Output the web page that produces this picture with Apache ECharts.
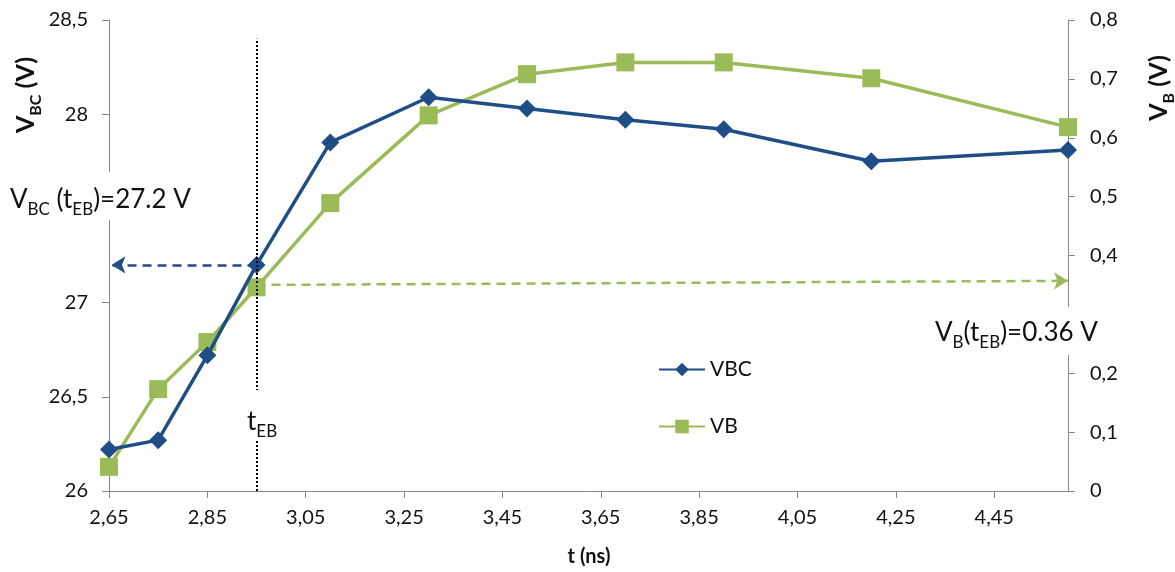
<!DOCTYPE html>
<html>
<head>
<meta charset="utf-8">
<script src="https://cdn.jsdelivr.net/npm/echarts@6/dist/echarts.min.js"></script>
<style>html,body{margin:0;padding:0;background:#fff}#c{width:1175px;height:572px}</style>
</head>
<body>
<div id="c"></div>
<script>
// ---- data ----
const tValues = [2.65, 2.75, 2.85, 2.95, 3.1, 3.3, 3.5, 3.7, 3.9, 4.2, 4.6];
const vbcValues = [26.22, 26.27, 26.72, 27.2, 27.85, 28.09, 28.03, 27.97, 27.92, 27.75, 27.81];
const vbValues = [0.041, 0.173, 0.253, 0.346, 0.489, 0.638, 0.708, 0.728, 0.728, 0.701, 0.618];
const tEB = 2.95;
const vbcAtEB = 27.2;
const vbArrowStart = 0.35;
const vbArrowEnd = 0.357;

const FONT = 'Lato, "Open Sans", sans-serif';
const BLUE = '#1F4E86';
const GREEN = '#9BBB59';
const AXIS = '#888888';

const chart = echarts.init(document.getElementById('c'), null, {renderer: 'canvas'});
const fmt = v => String(+v.toFixed(2)).replace('.', ',');

function richStyle(size, subSize, bold) {
  const w = bold ? 'bold' : 'normal';
  return {
    m: {fontFamily: FONT, fontSize: size, fontWeight: w, fill: '#111', color: '#111', verticalAlign: 'bottom'},
    s: {fontFamily: FONT, fontSize: subSize, fontWeight: w, fill: '#111', color: '#111', verticalAlign: 'bottom', padding: [0, 0, -5, 0]}
  };
}

chart.setOption({
  animation: false,
  backgroundColor: '#fff',
  grid: {left: 109, right: 107, top: 20, bottom: 81},
  legend: {
    orient: 'vertical', left: 653, top: 354, itemGap: 36,
    itemWidth: 46, itemHeight: 17,
    textStyle: {fontFamily: FONT, fontSize: 21, color: '#111'},
    data: ['VBC', 'VB']
  },
  xAxis: {
    type: 'value', min: 2.65, max: 4.6, interval: 0.2,
    splitLine: {show: false},
    axisLine: {lineStyle: {color: AXIS, width: 1}},
    axisTick: {length: 7, lineStyle: {color: AXIS}},
    axisLabel: {
      fontFamily: FONT, fontSize: 20, color: '#111', margin: 17, showMaxLabel: false,
      formatter: v => v.toFixed(2).replace('.', ',')
    }
  },
  yAxis: [{
    type: 'value', min: 26, max: 28.5, interval: 0.5,
    splitLine: {show: false},
    axisLine: {show: true, lineStyle: {color: AXIS}},
    axisTick: {show: true, length: 7, lineStyle: {color: AXIS}},
    axisLabel: {fontFamily: FONT, fontSize: 20, color: '#111', margin: 21, formatter: fmt}
  }, {
    type: 'value', min: 0, max: 0.8, interval: 0.1,
    splitLine: {show: false},
    axisLine: {show: true, lineStyle: {color: AXIS}},
    axisTick: {show: true, length: 7, lineStyle: {color: AXIS}},
    axisLabel: {fontFamily: FONT, fontSize: 20, color: '#111', margin: 22, formatter: fmt}
  }],
  series: [{
    name: 'VBC', type: 'line', yAxisIndex: 0,
    data: tValues.map((t, i) => [t, vbcValues[i]]),
    symbol: 'diamond', symbolSize: 18,
    lineStyle: {color: BLUE, width: 3.5},
    itemStyle: {color: BLUE},
    z: 3,
    markLine: {
      silent: true, animation: false,
      label: {show: false},
      data: [
        [{coord: [tEB, 26], symbol: 'none', lineStyle: {color: '#000', type: [2, 2], width: 2}},
         {coord: [tEB, 28.4], symbol: 'none'}],
        [{coord: [tEB, vbcAtEB], symbol: 'none', lineStyle: {color: BLUE, type: [9, 6], width: 2.5}},
         {coord: [2.655, vbcAtEB], symbol: 'arrow', symbolSize: [13, 14]}]
      ]
    }
  }, {
    name: 'VB', type: 'line', yAxisIndex: 1,
    data: tValues.map((t, i) => [t, vbValues[i]]),
    symbol: 'rect', symbolSize: 18,
    lineStyle: {color: GREEN, width: 3.5},
    itemStyle: {color: GREEN},
    z: 2,
    markLine: {
      silent: true, animation: false,
      label: {show: false},
      data: [
        [{coord: [tEB, vbArrowStart], symbol: 'none', lineStyle: {color: GREEN, type: [9, 6], width: 2.5}},
         {coord: [4.6, vbArrowEnd], symbol: 'arrow', symbolSize: [13, 14]}]
      ]
    }
  }],
  graphic: [
    {type: 'rect', z: 99, shape: {x: 4, y: 172, width: 204, height: 48}, style: {fill: '#fff'}},
    {type: 'rect', z: 99, shape: {x: 928, y: 307, width: 190, height: 48}, style: {fill: '#fff'}},
    {type: 'rect', z: 99, shape: {x: 244, y: 390, width: 40, height: 50}, style: {fill: '#fff'}},
    {type: 'text', z: 100, x: 10, y: 200,
     style: {text: '{m|V}{s|BC}{m| (t}{s|EB}{m|)=27.2 V}', verticalAlign: 'middle', rich: richStyle(26, 17, false)}},
    {type: 'text', z: 100, x: 935, y: 333,
     style: {text: '{m|V}{s|B}{m|(t}{s|EB}{m|)=0.36 V}', verticalAlign: 'middle', rich: richStyle(26, 17, false)}},
    {type: 'text', z: 100, x: 247, y: 422,
     style: {text: '{m|t}{s|EB}', verticalAlign: 'middle', rich: richStyle(26, 17, false)}},
    {type: 'text', z: 100, x: 26, y: 95, rotation: Math.PI / 2,
     style: {text: '{m|V}{s|BC}{m| (V)}', align: 'center', verticalAlign: 'middle', rich: richStyle(25, 16, true)}},
    {type: 'text', z: 100, x: 1159, y: 88, rotation: Math.PI / 2,
     style: {text: '{m|V}{s|B}{m| (V)}', align: 'center', verticalAlign: 'middle', rich: richStyle(25, 16, true)}},
    {type: 'text', z: 100, x: 589, y: 557,
     style: {text: 't (ns)', align: 'center', verticalAlign: 'middle',
       font: 'bold 20px ' + FONT, fill: '#111'}}
  ]
});
</script>
</body>
</html>
